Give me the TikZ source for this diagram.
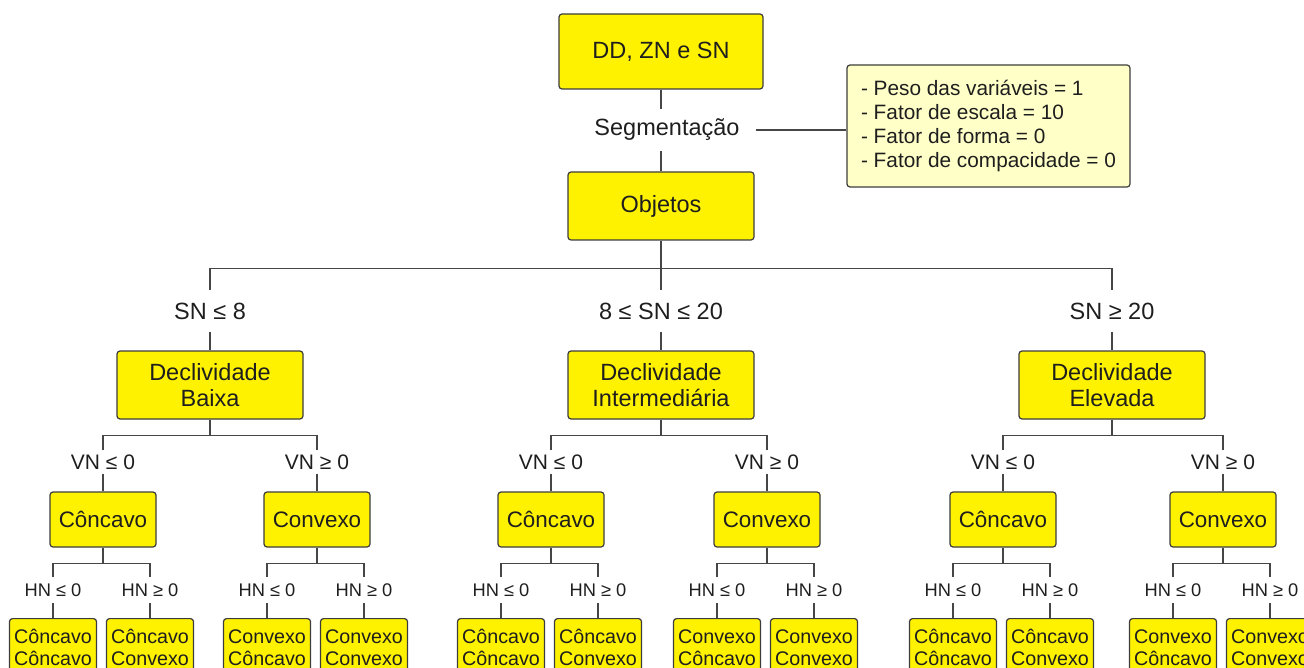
\documentclass[tikz,border=0pt]{standalone}
\usepackage{fontspec}
\setmainfont{Liberation Sans}
\definecolor{boxfill}{RGB}{255,242,0}
\definecolor{notefill}{RGB}{255,255,200}
\definecolor{boxline}{RGB}{60,60,60}
\definecolor{wirecol}{RGB}{70,70,70}
\definecolor{inkcol}{RGB}{30,30,30}
\newcommand\fs[2]{\fontsize{#1}{#2}\selectfont}
\begin{document}
\begin{tikzpicture}[x=1pt,y=-1pt,
  every node/.style={text=inkcol},
  box/.style={draw=boxline, fill=boxfill, line width=1.2pt, rounded corners=3pt, inner sep=0pt, align=center},
  wire/.style={draw=wirecol, line width=1.2pt},
  cond/.style={inner xsep=2pt, inner ysep=0pt},
]
\useasboundingbox (0,0) rectangle (1304,668);
\clip (0,0) rectangle (1304,668);

\node[box, minimum width=204, minimum height=75, font=\fs{23.5}{26}] (dd) at (661,51.5) {DD, ZN e SN};
\node[cond, minimum height=41, inner xsep=16, font=\fs{23.5}{26}] (seg) at (667,130) {Segmentação};
\node[box, fill=notefill, minimum width=283, minimum height=122, align=left, inner xsep=14, font=\fs{20.8}{24}] (note) at (988.5,126)
  {- Peso das variáveis = 1\\- Fator de escala = 10\\- Fator de forma = 0\\- Fator de compacidade = 0};
\node[box, minimum width=186, minimum height=68, font=\fs{23.5}{26}] (obj) at (661,206) {Objetos};

\draw[wire] (dd.south) -- (dd.south |- seg.north);
\draw[wire] (obj.north |- seg.south) -- (obj.north);
\draw[wire] (seg.east) -- (seg.east -| note.west);

\foreach \p/\cx/\lx/\rx/\cnd/\ttl in {
  a/210/103/317/{SN ≤ 8}/{Declividade\\Baixa},
  b/661/551/767/{8 ≤ SN ≤ 20}/{Declividade\\Intermediária},
  c/1112/1003/1223/{SN ≥ 20}/{Declividade\\Elevada}}{
  \node[cond, minimum height=41, font=\fs{23.5}{26}] (\p-sn) at (\cx,311) {\cnd};
  \node[box, minimum width=186, minimum height=68, font=\fs{23.5}{25.7}] (\p-d) at (\cx,385) {\ttl};
  \draw[wire] (obj.south) -- ++(0,28) -| (\p-sn.north);
  \draw[wire] (\p-sn) -- (\p-d);
  \foreach \s/\px/\nm/\rl in {l/\lx/Côncavo/≤, r/\rx/Convexo/≥}{
    \node[cond, minimum height=23, font=\fs{21}{24}] (\p-\s-vn) at (\px,462) {VN \rl{} 0};
    \node[box, minimum width=106, minimum height=55, font=\fs{22.4}{25}] (\p-\s) at (\px,519.5) {\nm};
    \draw[wire] (\p-d.south) -- ++(0,16) -| (\p-\s-vn.north);
    \draw[wire] (\p-\s-vn) -- (\p-\s);
    \foreach \q/\dx/\lf/\hr in {l/-50/Côncavo/≤, r/47/Convexo/≥}{
      \node[cond, minimum height=26, font=\fs{18.3}{21}] (\p-\s-\q-hn) at ({\px+(\dx)},590) {HN \hr{} 0};
      \node[box, minimum width=87, minimum height=58, anchor=north, font=\fs{19.7}{22}] (\p-\s-\q) at ({\px+(\dx)},618) {\nm\\\lf};
      \draw[wire] (\p-\s.south) -- ++(0,16) -| (\p-\s-\q-hn.north);
      \draw[wire] (\p-\s-\q-hn) -- (\p-\s-\q);
    }
  }
}
\end{tikzpicture}
\end{document}
